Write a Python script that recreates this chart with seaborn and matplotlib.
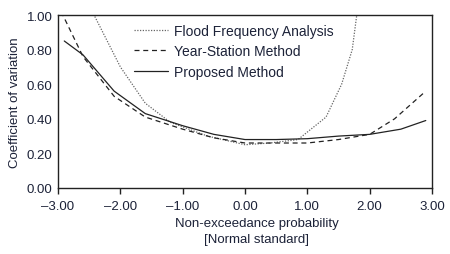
import numpy as np
import pandas as pd
import matplotlib
matplotlib.use("Agg")
import matplotlib.pyplot as plt
import seaborn as sns

# data
x_ffa = [-2.45, -2.0, -1.6, -1.2, -0.6, 0.0, 0.4, 0.85, 1.3, 1.55, 1.72, 1.8]
y_ffa = [1.02, 0.70, 0.49, 0.38, 0.30, 0.25, 0.26, 0.28, 0.41, 0.60, 0.80, 1.02]

x_ysm = [-2.95, -2.6, -2.1, -1.6, -1.0, -0.5, 0.0, 0.5, 1.0, 1.5, 2.0, 2.4, 2.9]
y_ysm = [1.02, 0.76, 0.53, 0.41, 0.34, 0.29, 0.26, 0.26, 0.26, 0.28, 0.31, 0.40, 0.56]

x_prop = [-2.9, -2.6, -2.1, -1.6, -1.0, -0.5, 0.0, 0.5, 1.0, 1.5, 2.0, 2.5, 2.9]
y_prop = [0.85, 0.77, 0.56, 0.43, 0.36, 0.31, 0.28, 0.28, 0.285, 0.30, 0.31, 0.34, 0.39]

x_ticks = [-3, -2, -1, 0, 1, 2, 3]
y_ticks = [0.0, 0.2, 0.4, 0.6, 0.8, 1.0]

txt = '#1c2238'

sns.set_style("white")
plt.rcParams['font.family'] = ['Liberation Sans', 'DejaVu Sans']

fig = plt.figure(figsize=(4.5, 2.55), dpi=100)
ax = fig.add_axes([0.129, 0.259, 0.831, 0.678])

sns.lineplot(x=x_ffa, y=y_ffa, ax=ax, color='#666666', lw=0.9, ls=(0, (1, 1.2)),
             label='Flood Frequency Analysis')
sns.lineplot(x=x_ysm, y=y_ysm, ax=ax, color='#222222', lw=0.9, ls=(0, (4, 3)),
             label='Year-Station Method')
sns.lineplot(x=x_prop, y=y_prop, ax=ax, color='#222222', lw=0.9, ls='-',
             label='Proposed Method')

ax.set_xlim(-3, 3)
ax.set_ylim(0, 1)
ax.set_xticks(x_ticks)
ax.set_xticklabels([f'{v:.2f}'.replace('-', '\u2013') for v in x_ticks])
ax.set_yticks(y_ticks)
ax.set_yticklabels([f'{v:.2f}' for v in y_ticks])
ax.tick_params(axis='x', direction='out', length=4, width=1, color='#222222',
               labelsize=9.5, labelcolor=txt, pad=5, bottom=True)
ax.tick_params(axis='y', length=0, labelsize=9.5, labelcolor=txt, pad=4)

for s in ax.spines.values():
    s.set_color('#222222')
    s.set_linewidth(1.0)

ax.set_xlabel('Non-exceedance probability\n[Normal standard]', fontsize=9.5,
              color=txt, labelpad=5, linespacing=1.45)
ax.xaxis.set_label_coords(0.532, -0.17, transform=ax.transAxes)
ax.xaxis.label.set_va('top')
ax.set_ylabel('Coefficient of variation', fontsize=9.5, color=txt, labelpad=4)

ax.legend(loc='upper center', bbox_to_anchor=(0.47, 1.0), frameon=False,
          fontsize=10, handlelength=2.4, handletextpad=0.45,
          labelspacing=0.45, labelcolor=txt, borderaxespad=0.25)

fig.savefig('out.png', dpi=100)
